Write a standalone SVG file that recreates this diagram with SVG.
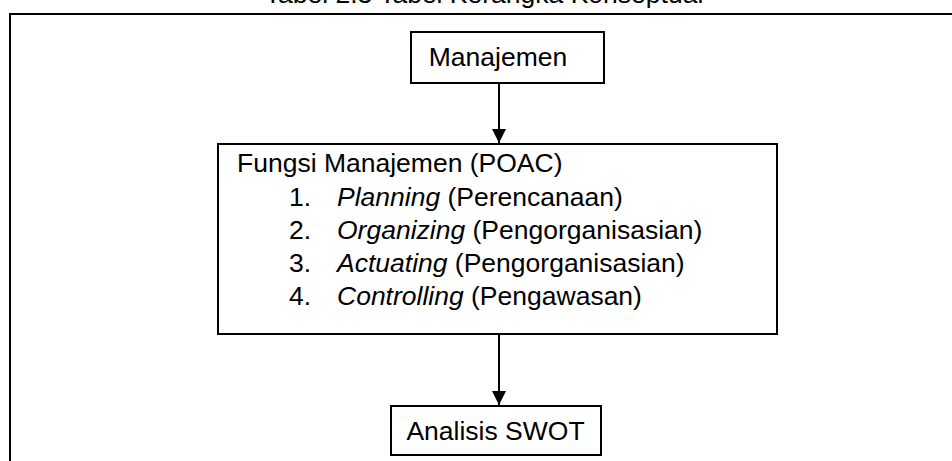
<svg xmlns="http://www.w3.org/2000/svg" width="952" height="461" viewBox="0 0 952 461">
<style>
text{font-family:"Liberation Sans",Arial,sans-serif;font-size:26.5px;fill:#000}
.box{fill:#fff;stroke:#000;stroke-width:2}
.conn{stroke:#000;stroke-width:2;fill:none}
</style>
<defs>
<marker id="ah" markerWidth="14" markerHeight="17" refX="14" refY="8.5" orient="auto" markerUnits="userSpaceOnUse">
<path d="M0,1.5 L14,8.5 L0,15.5 Z" fill="#000"/>
</marker>
</defs>
<rect width="952" height="461" fill="#fff"/>
<text x="484" y="3" text-anchor="middle" font-size="27">Tabel 2.3 Tabel Kerangka Konseptual</text>
<rect x="10" y="14" width="960" height="470" fill="none" stroke="#000" stroke-width="2"/>
<g id="connectors">
<line class="conn" x1="499" y1="83" x2="499" y2="143" marker-end="url(#ah)"/>
<line class="conn" x1="499" y1="334" x2="499" y2="405" marker-end="url(#ah)"/>
</g>
<g id="manajemen">
<rect class="box" x="411" y="32" width="193" height="51"/>
<text x="498" y="66" text-anchor="middle">Manajemen</text>
</g>
<g id="fungsi">
<rect class="box" x="218" y="144" width="559" height="190"/>
<text x="237" y="172">Fungsi Manajemen (POAC)</text>
<text x="289" y="206">1.</text><text x="337" y="206"><tspan font-style="italic">Planning</tspan> (Perencanaan)</text>
<text x="289" y="239">2.</text><text x="337" y="239"><tspan font-style="italic">Organizing</tspan> (Pengorganisasian)</text>
<text x="289" y="272">3.</text><text x="337" y="272"><tspan font-style="italic">Actuating</tspan> (Pengorganisasian)</text>
<text x="289" y="305">4.</text><text x="337" y="305"><tspan font-style="italic">Controlling</tspan> (Pengawasan)</text>
</g>
<g id="swot">
<rect class="box" x="391" y="406" width="210" height="49"/>
<text x="495.5" y="440" text-anchor="middle">Analisis SWOT</text>
</g>
</svg>
